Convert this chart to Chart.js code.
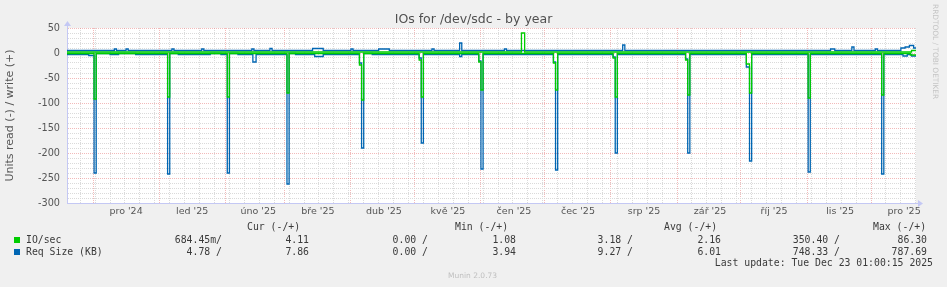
<!DOCTYPE html>
<html>
<head>
<meta charset="utf-8">
<title>IOs for /dev/sdc - by year</title>
<script src="https://cdn.jsdelivr.net/npm/chart.js@4.4.1/dist/chart.umd.min.js"></script>
<style>
  body { margin: 0; background: #f0f0f0; }
  #wrap { position: relative; width: 947px; height: 287px; background: #f0f0f0; overflow: hidden; }
  #chart { position: absolute; left: 0; top: 0; }
  .t { position: absolute; white-space: pre; }
  .lg { position: absolute; white-space: pre; font-family: 'DejaVu Sans Mono', monospace; font-size: 9.8px; line-height: 12px; color: #3a3a3a; }
  .sq { position: absolute; width: 6px; height: 6px; }
</style>
</head>
<body>
<div id="wrap">
  <canvas id="chart" width="947" height="287"></canvas>
  <div class="t" id="title" style="left:0;width:947px;top:12px;text-align:center;font-family:'DejaVu Sans';font-size:12.5px;line-height:14px;color:#505050;">IOs for /dev/sdc - by year</div>
  <div class="t" style="left:931px;top:4px;writing-mode:vertical-rl;font-family:'DejaVu Sans';font-size:7.4px;color:#c4c4c4;">RRDTOOL / TOBI OETIKER</div>

  <div class="lg" style="left:247px;top:221px;">Cur (-/+)</div>
  <div class="lg" style="left:455px;top:221px;">Min (-/+)</div>
  <div class="lg" style="left:664px;top:221px;">Avg (-/+)</div>
  <div class="lg" style="left:873px;top:221px;">Max (-/+)</div>

  <div class="sq" style="left:14px;top:237px;background:#00cc00;"></div>
  <div class="lg" style="left:26px;top:234px;">IO/sec</div>
  <div class="sq" style="left:14px;top:249px;background:#0066b3;"></div>
  <div class="lg" style="left:26px;top:246px;">Req Size (KB)</div>
  <div id="rows"></div>

  <div class="lg" style="right:14px;top:257px;">Last update: Tue Dec 23 01:00:15 2025</div>
  <div class="t" style="left:448px;top:271px;font-family:'DejaVu Sans';font-size:7.5px;color:#c0c0c0;">Munin 2.0.73</div>
</div>
<script>
// days counted from 1 Dec 2024
var monthStarts = [0, 31, 62, 90, 121, 151, 182, 212, 243, 274, 304, 335, 365];
var monthLabels = ["pro '24", "led '25", "úno '25", "bře '25", "dub '25", "kvě '25", "čen '25", "čec '25", "srp '25", "zář '25", "říj '25", "lis '25", "pro '25"];

// [day, value] - value holds from that day until the next entry
var ioWrite = [[-12.2,2],[201,40],[202.5,2],[384,5],[386.1,5]];
var ioRead = [[-12.2,-1],
  [0.5,-92],[1.5,-1],[35,-88],[36,-1],[63,-88],[64,-1],[91,-80],[92,-1],
  [125,-24],[126,-94],[127,-1],[153,-14],[154,-88],[155,-1],
  [181,-18],[182,-74],[183,-1],[216,-20],[217,-74],[218,-1],
  [244,-10],[245,-88],[246,-1],[278,-14],[279,-84],[280,-1],
  [306.5,-22],[308,-80],[309,-1],[335.5,-90],[336.5,-1],[370,-84],[371,-1],
  [383.5,-4],[386.1,-4]];
var reqWrite = [[-12.2,5],[10,8],[11,5],[15.5,8],[16.5,5],[37,8],[38,5],[51,8],[52,5],
  [74.5,8],[75.5,5],[83,9],[84,5],[103,9],[108,5],[121,8],[122,5],[134,8],[139,5],
  [159,8],[160,5],[172,20],[173,5],[193,8],[194,5],[248.5,16],[249.5,5],
  [346,8],[348,5],[356,12],[357,5],[367,8],[368,5],[379,10],[381,12],[383,15],[385,10],[386.1,10]];
var reqRead = [[-12.2,-3],[-2,-5],[0.5,-240],[1.5,-1],[8,-3],[12,-1],[20,-3],
  [35,-242],[36,-1],[40,-3],[55,-1],[60,-3],[63,-240],[64,-1],[68,-3],
  [75,-18],[76.5,-3],[91,-262],[92,-1],[95,-3],[104,-7],[108,-3],
  [125,-20],[126,-190],[127,-1],[131,-3],[153,-10],[154,-180],[155,-3],
  [172,-7],[173,-3],[181,-16],[182,-232],[183,-3],[216,-18],[217,-234],[218,-3],
  [244,-8],[245,-200],[246,-3],[278,-12],[279,-200],[280,-3],
  [306.5,-28],[308,-216],[309,-3],[335.5,-238],[336.5,-3],[370,-242],[371,-3],
  [380,-6],[382,-3],[384,-6],[386.1,-6]];

var yTicks = [-300, -250, -200, -150, -100, -50, 0, 50];

var legendRows = [
  ['684.45m/', '4.11', '0.00 /', '1.08', '3.18 /', '2.16', '350.40 /', '86.30'],
  ['4.78 /', '7.86', '0.00 /', '3.94', '9.27 /', '6.01', '748.33 /', '787.69']
];
var legendRight = [222, 309, 428, 516, 633, 721, 840, 927];

var rowsHtml = '';
legendRows.forEach(function(r, ri){
  r.forEach(function(txt, ci){
    rowsHtml += '<div class="lg" style="right:' + (947 - legendRight[ci]) + 'px;top:' + (234 + ri*12) + 'px;">' + txt + '</div>';
  });
});
document.getElementById('rows').innerHTML = rowsHtml;

var xMin = -12.2, xMax = 386.1;
var majorGrid = 'rgba(232,130,130,0.55)';
var minorGrid = '#dadada';

var xTicks = [];
for (var d = -6; d < xMax; d += 7) {
  if (monthStarts.indexOf(d) < 0) xTicks.push({value: d, kind: 'week', lab: ''});
}
monthStarts.forEach(function(m, i){
  xTicks.push({value: m, kind: 'month', lab: ''});
  xTicks.push({value: m + 15.5, kind: 'label', lab: monthLabels[i]});
});
xTicks.sort(function(a, b){ return a.value - b.value; });

function pts(a){ return a.map(function(p){ return {x: p[0], y: p[1]}; }); }

var arrows = {
  id: 'arrows',
  beforeDraw: function(chart){
    var a = chart.chartArea, c = chart.ctx;
    c.save();
    c.fillStyle = '#ffffff';
    c.fillRect(a.left, a.top, a.right - a.left, a.bottom - a.top);
    c.restore();
  },
  afterDraw: function(chart){
    var a = chart.chartArea, c = chart.ctx;
    c.save();
    c.strokeStyle = '#c4c8f4';
    c.fillStyle = '#c4c8f4';
    c.lineWidth = 1;
    c.beginPath();
    c.moveTo(a.left + 0.5, a.top); c.lineTo(a.left + 0.5, a.top - 3);
    c.moveTo(a.right, a.bottom + 0.5); c.lineTo(a.right + 3, a.bottom + 0.5);
    c.stroke();
    c.beginPath();
    c.moveTo(a.left - 3, a.top - 2); c.lineTo(a.left + 4, a.top - 2); c.lineTo(a.left + 0.5, a.top - 7); c.closePath();
    c.fill();
    c.beginPath();
    c.moveTo(a.right + 2, a.bottom - 3); c.lineTo(a.right + 2, a.bottom + 4); c.lineTo(a.right + 7, a.bottom + 0.5); c.closePath();
    c.fill();
    c.restore();
  }
};

var ctx = document.getElementById('chart').getContext('2d');
var chart = new Chart(ctx, {
  type: 'line',
  data: {
    datasets: [
      {label: 'IO/sec read', data: pts(ioRead), borderColor: '#00cc00'},
      {label: 'IO/sec write', data: pts(ioWrite), borderColor: '#00cc00'},
      {label: 'Req Size read', data: pts(reqRead), borderColor: '#0066b3'},
      {label: 'Req Size write', data: pts(reqWrite), borderColor: '#0066b3'}
    ]
  },
  options: {
    responsive: false,
    animation: false,
    layout: {padding: {top: 28, right: 31, bottom: 64, left: 0}},
    elements: {
      line: {borderWidth: 1.3, stepped: 'before', tension: 0, fill: false},
      point: {radius: 0, hoverRadius: 0}
    },
    plugins: {legend: {display: false}, tooltip: {enabled: false}, title: {display: false}},
    scales: {
      x: {
        type: 'linear', min: xMin, max: xMax,
        afterBuildTicks: function(s){ s.ticks = xTicks.slice(); },
        afterFit: function(s){ s.height = 20; },
        ticks: {
          autoSkip: false, maxRotation: 0, minRotation: 0, padding: 3, color: '#555555',
          font: {family: 'DejaVu Sans', size: 9.5},
          callback: function(v, i, t){ return t[i].lab; }
        },
        grid: {
          drawTicks: false, lineWidth: 1,
          color: function(c){
            if (!c.tick) return 'rgba(0,0,0,0)';
            if (c.tick.kind === 'month') return majorGrid;
            if (c.tick.kind === 'week') return minorGrid;
            return 'rgba(0,0,0,0)';
          }
        },
        border: {display: true, color: '#c4c8f4', width: 1, dash: [1, 1]}
      },
      y: {
        min: -300, max: 50,
        afterBuildTicks: function(s){
          var t = [];
          for (var v = -300; v <= 50; v += 10) t.push({value: v});
          s.ticks = t;
        },
        afterFit: function(s){ s.width = 67; },
        ticks: {
          autoSkip: false, padding: 7, color: '#555555',
          font: {family: 'DejaVu Sans', size: 9.7},
          callback: function(v){ return yTicks.indexOf(v) >= 0 ? String(v) : ''; }
        },
        grid: {
          drawTicks: false, lineWidth: 1,
          color: function(c){
            if (!c.tick) return 'rgba(0,0,0,0)';
            return yTicks.indexOf(c.tick.value) >= 0 ? majorGrid : minorGrid;
          }
        },
        border: {display: true, color: '#c4c8f4', width: 1, dash: [1, 1]},
        title: {display: true, text: 'Units read (-) / write (+)', color: '#555555',
                font: {family: 'DejaVu Sans', size: 11}, padding: {top: 4, bottom: 0}}
      }
    }
  },
  plugins: [arrows]
});
</script>
</body>
</html>
